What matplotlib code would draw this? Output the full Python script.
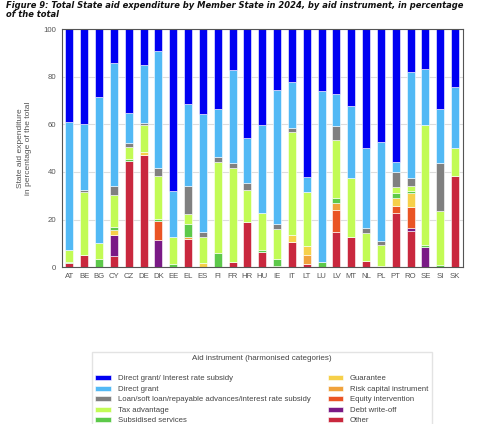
import numpy as np
import matplotlib.pyplot as plt

countries = ['AT', 'BE', 'BG', 'CY', 'CZ', 'DE', 'DK', 'EE', 'EL', 'ES', 'FI', 'FR', 'HR', 'HU', 'IE',
             'IT', 'LT', 'LU', 'LV', 'MT', 'NL', 'PL', 'PT', 'RO', 'SE', 'SI', 'SK']

# shares in % of total, bottom of the stack first
other        = [1.8, 5.2, 0, 4.8, 44.7, 47.1, 0, 0, 11.8, 0, 0, 2.0, 18.8, 6.2, 0,
                10.4, 1.5, 0, 14.9, 12.8, 2.5, 0.6, 22.6, 15.3, 0, 0, 38.4]
debt_writeoff = [0, 0, 0, 8.7, 0, 0, 11.4, 0, 0, 0, 0, 0, 0, 0, 0,
                 0, 0, 0, 0, 0, 0, 0, 0, 1.0, 8.6, 0, 0]
equity       = [0, 0, 0, 0, 0, 0, 8.0, 0, 0, 0, 0, 0, 0, 0, 0,
                0, 0, 0, 9.1, 0, 0, 0, 3.2, 9.0, 0, 0, 0]
risk_capital = [0, 0, 0, 0, 0, 0, 0, 0, 0.7, 0, 0, 0, 0, 0, 0,
                0, 3.5, 0, 2.8, 0, 0, 0, 0, 0, 0, 0, 0]
guarantee    = [0, 0, 0, 2.0, 0, 1.3, 0, 0, 0, 1.8, 0, 0, 0, 0, 0.3,
                2.9, 3.8, 0, 0, 0, 0, 0, 3.1, 6.0, 0, 0, 0]
subsidised   = [0.5, 0, 3.6, 1.3, 0.8, 0, 1.0, 1.5, 5.7, 0, 5.8, 0, 0, 1.0, 3.3,
                0, 0, 2.0, 2.4, 0, 0, 0, 2.1, 0.8, 0.9, 0.7, 0]
tax          = [4.8, 26.3, 6.6, 13.4, 4.9, 11.2, 18.0, 11.0, 4.1, 10.7, 38.5, 39.5, 13.6, 15.7, 12.5,
                43.6, 22.9, 0, 24.2, 24.8, 11.9, 8.7, 2.5, 2.0, 50.2, 22.9, 11.8]
loan         = [0.3, 1.0, 0, 3.9, 1.9, 1.0, 3.4, 0, 11.8, 2.1, 2.1, 2.1, 3.1, 0, 1.9,
                1.4, 0, 0, 5.9, 0, 2.1, 1.8, 6.6, 3.3, 0, 20.0, 0]
direct_grant = [53.5, 27.7, 61.5, 51.6, 12.6, 24.2, 49.1, 19.6, 34.5, 49.8, 19.9, 39.1, 18.9, 36.7, 56.5,
                19.5, 6.0, 72.1, 13.3, 30.1, 33.6, 41.6, 4.2, 44.8, 23.6, 22.9, 25.7]
dg_interest  = [39.1, 39.8, 28.3, 14.3, 35.1, 15.1, 9.1, 67.9, 31.4, 35.6, 33.7, 17.3, 45.6, 40.4, 25.5,
                22.2, 62.3, 25.9, 27.4, 32.3, 49.9, 47.3, 55.7, 17.8, 16.7, 33.5, 24.1]

series = [
    ('Other', other, '#c9283e'),
    ('Debt write-off', debt_writeoff, '#7a1a86'),
    ('Equity intervention', equity, '#ea5424'),
    ('Risk capital instrument', risk_capital, '#f0a23c'),
    ('Guarantee', guarantee, '#f6d04a'),
    ('Subsidised services', subsidised, '#5dc94a'),
    ('Tax advantage', tax, '#c2fb55'),
    ('Loan/soft loan/repayable advances/interest rate subsidy', loan, '#808080'),
    ('Direct grant', direct_grant, '#52b9f5'),
    ('Direct grant/ Interest rate subsidy', dg_interest, '#0000f2'),
]

plt.rcParams['font.family'] = ['Liberation Sans', 'DejaVu Sans']

fig = plt.figure(figsize=(5, 4.24), dpi=100)
ax = fig.add_axes([0.124, 0.370, 0.801, 0.561])

x = np.arange(len(countries))
bottom = np.zeros(len(countries))
handles = {}
for name, vals, col in series:
    vals = np.array(vals)
    b = ax.bar(x, vals, 0.54, bottom=bottom, color=col, edgecolor='white', linewidth=0.4, label=name)
    handles[name] = b
    bottom += vals

ax.set_xlim(-0.5, len(countries) - 0.5)
ax.set_ylim(0, 100)
ax.set_yticks([0, 20, 40, 60, 80, 100])
ax.set_xticks(x)
ax.set_xticklabels(countries)
ax.tick_params(axis='both', labelsize=5.6, colors='#555555', length=0, pad=4)
ax.yaxis.grid(True, color='#dddddd', linewidth=0.8)
ax.set_axisbelow(True)
for s in ax.spines.values():
    s.set_color('#555555')
    s.set_linewidth(0.8)
ax.set_ylabel('State aid expenditure\nin percentage of the total', fontsize=6, color='#555555', labelpad=8)

fig.text(0.012, 0.998, 'Figure 9: Total State aid expenditure by Member State in 2024, by aid instrument, in percentage\nof the total',
         fontsize=6.05, style='italic', weight='bold', family='DejaVu Sans', va='top', ha='left',
         color='#111111', linespacing=1.05)

order = ['Direct grant/ Interest rate subsidy', 'Direct grant',
         'Loan/soft loan/repayable advances/interest rate subsidy', 'Tax advantage', 'Subsidised services',
         'Guarantee', 'Risk capital instrument', 'Equity intervention', 'Debt write-off', 'Other']
leg = fig.legend([handles[n] for n in order], order, loc='upper left', bbox_to_anchor=(0.184, 0.170),
                 borderaxespad=0, ncol=2, fontsize=5.6,
                 title='Aid instrument (harmonised categories)', title_fontsize=5.8,
                 frameon=True, fancybox=False, edgecolor='#dddddd', handlelength=2.0, handleheight=0.6,
                 handletextpad=0.9, columnspacing=2.2, labelspacing=0.42, borderpad=0.4,
                 labelcolor='#444444')
leg.get_title().set_color('#444444')
leg._legend_box.sep = 9.5

fig.savefig('out.png', dpi=100)
